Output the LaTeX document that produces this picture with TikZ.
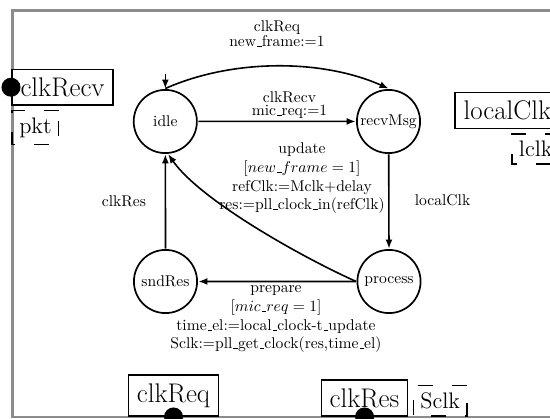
\documentclass[tikz,border=0pt]{standalone}
\usetikzlibrary{arrows.meta}
\newcommand\usc{\leavevmode\kern.06em\vbox{\hrule width.3em}}
\begin{document}
\begin{tikzpicture}[x=0.641026pt,y=0.641026pt,scale=1.56,transform shape,
  state/.style={draw,circle,line width=1.7pt,minimum size=40.5pt,inner sep=0pt,font=\normalsize},
  evbox/.style={draw,rectangle,line width=1.6pt,inner sep=5.3pt,font=\LARGE,fill=white},
  databox/.style={draw,rectangle,dash pattern=on 15pt off 19pt,line width=1.6pt,inner sep=4.5pt,font=\Large},
  portdot/.style={circle,fill=black,minimum size=12.2pt,inner sep=0pt},
  trans/.style={-{Latex[length=9pt,width=7pt]},line width=1.6pt},
  lbl/.style={align=center,anchor=base,inner sep=0pt}]
\useasboundingbox (0,0) rectangle (550,419);
\clip (0,0) rectangle (550,419);
% frame
\draw[black!45,line width=2.5pt] (12.7,2) rectangle (640,408.3);
% ports
\node[evbox,anchor=west] (bRecv) at (11,331.7) {clkRecv};
\node[portdot] (pRecv) at (bRecv.west) {};
\node[databox,anchor=north west] (dPkt) at ([yshift=-2pt]bRecv.south west) {pkt};
\node[evbox,anchor=west] (bLocal) at (454,308.5) {localClk};
\node[databox,anchor=north east] (dLclk) at ([yshift=-2pt]bLocal.south east) {lclk};
\node[evbox,anchor=south] (bReq) at (173.5,2) {clkReq};
\node[portdot] (pReq) at (bReq.south) {};
\node[evbox,anchor=south] (bRes) at (364.5,2) {clkRes};
\node[portdot] (pRes) at (bRes.south) {};
\node[databox,anchor=south west] (dSclk) at ([xshift=2pt]bRes.south east) {Sclk};
% states
\node[state] (idle) at (165.3,297.5) {idle};
\node[state] (recvMsg) at (388.5,297.5) {recvMsg};
\node[state] (process) at (389,137.5) {process};
\node[state] (sndRes) at (165.5,137.5) {sndRes};
\coordinate (init) at (165.3,345);
% transitions
\draw[trans] (init) -- (idle.north);
\draw[trans] (idle.north) to[out=24,in=156,looseness=0.84] (recvMsg.north);
\draw[trans] (idle) -- (recvMsg);
\draw[trans] (recvMsg) -- (process);
\draw[trans] (process.west) to[out=156,in=-55,looseness=0.641] (idle.-85);
\draw[trans] (process) -- (sndRes);
\draw[trans] (sndRes) -- (idle);
% labels (base = last line)
\node[lbl,font=\fontsize{10}{9.87}\selectfont] (lReq) at (277,372.3) {clkReq\\new\usc frame:=1};
\node[lbl,font=\fontsize{10}{8.2}\selectfont] (lRecv) at (289.5,303.5) {clkRecv\\mic\usc req:=1};
\node[lbl] (lUpd) at (302,209) {update\\{}[$new\usc frame = 1$]\\refClk:=Mclk+delay\\res:=pll\usc clock\usc in(refClk)};
\node[lbl] (lPrep) at (276,70) {prepare\\{}[$mic\usc req = 1$]\\time\usc el:=local\usc clock-t\usc update\\Sclk:=pll\usc get\usc clock(res,time\usc el)};
\node[lbl] (lLoc) at (442.5,213) {localClk};
\node[lbl] (lRes) at (124,212.3) {clkRes};
\end{tikzpicture}
\end{document}
